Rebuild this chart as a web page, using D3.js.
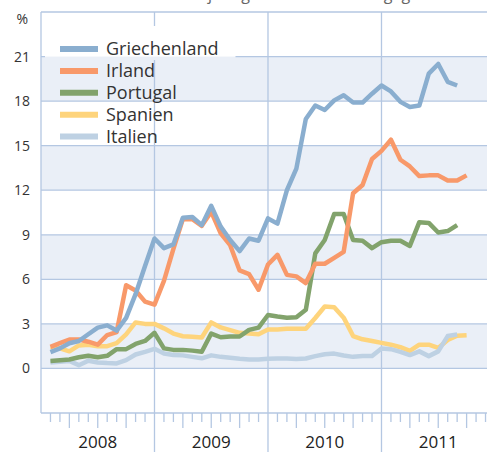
<!DOCTYPE html>
<html>
<head>
<meta charset="utf-8">
<script src="https://cdnjs.cloudflare.com/ajax/libs/d3/7.8.5/d3.min.js"></script>
<style>
body { margin: 0; background: #fff; }
text { font-family: "Open Sans", sans-serif; }
</style>
</head>
<body>
<div id="chart"></div>
<script>

// monthly values, first point = end of Jan 2008
var griechenland = [1.1, 1.35, 1.7, 1.85, 2.3, 2.75, 2.9, 2.55, 3.4, 5.0, 6.9, 8.75,
    8.1, 8.35, 10.15, 10.2, 9.65, 10.95, 9.55, 8.65, 7.9, 8.75, 8.6, 10.1,
    9.75, 12.0, 13.45, 16.8, 17.7, 17.4, 18.05, 18.4, 17.9, 17.9, 18.5, 19.05,
    18.65, 17.95, 17.6, 17.7, 19.85, 20.5, 19.3, 19.05];
var irland = [1.45, 1.7, 1.95, 1.95, 1.8, 1.6, 2.25, 2.45, 5.6, 5.25, 4.5, 4.3,
    5.9, 8.05, 10.05, 10.05, 9.6, 10.55, 9.1, 8.3, 6.6, 6.35, 5.3, 7.0,
    7.65, 6.3, 6.2, 5.75, 7.05, 7.05, 7.45, 7.85, 11.8, 12.35, 14.1, 14.65,
    15.4, 14.05, 13.6, 12.95, 13.0, 13.0, 12.65, 12.65, 13.0];
var portugal = [0.5, 0.55, 0.6, 0.75, 0.85, 0.75, 0.85, 1.3, 1.3, 1.65, 1.85, 2.4,
    1.35, 1.25, 1.25, 1.2, 1.12, 2.35, 2.1, 2.15, 2.15, 2.6, 2.75, 3.6,
    3.5, 3.42, 3.45, 3.95, 7.75, 8.65, 10.4, 10.4, 8.65, 8.6, 8.1, 8.5,
    8.6, 8.6, 8.25, 9.85, 9.8, 9.15, 9.25, 9.65];
var spanien = [1.45, 1.35, 1.15, 1.55, 1.6, 1.5, 1.5, 1.7, 2.3, 3.1, 3.0, 3.0,
    2.7, 2.35, 2.17, 2.13, 2.08, 3.1, 2.76, 2.58, 2.4, 2.35, 2.3, 2.62,
    2.62, 2.67, 2.67, 2.67, 3.4, 4.17, 4.12, 3.42, 2.18, 1.96, 1.85, 1.72,
    1.6, 1.43, 1.18, 1.6, 1.6, 1.38, 1.92, 2.2, 2.24];
var italien = [0.4, 0.45, 0.5, 0.22, 0.52, 0.4, 0.36, 0.34, 0.56, 0.94, 1.12, 1.32,
    1.0, 0.9, 0.88, 0.78, 0.68, 0.88, 0.78, 0.72, 0.65, 0.6, 0.6, 0.65,
    0.67, 0.67, 0.63, 0.67, 0.83, 0.96, 1.0, 0.87, 0.78, 0.83, 0.83, 1.35,
    1.3, 1.12, 0.9, 1.15, 0.83, 1.15, 2.18, 2.29];

var countries = ["Griechenland", "Irland", "Portugal", "Spanien", "Italien"];
var countryValues = [griechenland, irland, portugal, spanien, italien];
var years = ["2008", "2009", "2010", "2011"];
var yTicks = [0, 3, 6, 9, 12, 15, 18, 21];
var bandStarts = [0, 6, 12, 18];

var colors = ["#8aaecf", "#f8996a", "#82a36c", "#fed47c", "#bed1e3"];
var gridColor = "#b4c7e2";

var svgWidth = 487;
var svgHeight = 452;

var plot = { left: 41, top: 12, bottom: 413 };

var svg = d3.select("#chart")
    .append("svg")
    .attr("width", svgWidth)
    .attr("height", svgHeight);

// months since Jan 2008, one year is ~113.5px
var xScale = d3.scaleLinear()
    .domain([0, 48])
    .range([plot.left, plot.left + 48 * 9.458]);

var yScale = d3.scaleLinear()
    .domain([-3, 24])
    .range([plot.bottom, plot.top]);

// mask so grid lines disappear behind the legend
var defs = svg.append("defs");
var mask = defs.append("mask").attr("id", "legendMask");
mask.append("rect")
    .attr("width", svgWidth)
    .attr("height", svgHeight)
    .attr("fill", "white");

// shaded bands
svg.selectAll("rect.band")
    .data(bandStarts)
    .enter()
    .append("rect")
    .attr("class", "band")
    .attr("x", plot.left)
    .attr("width", svgWidth - plot.left)
    .attr("y", d => yScale(d + 3))
    .attr("height", d => yScale(d) - yScale(d + 3))
    .attr("fill", "#eaeff7");

var grid = svg.append("g")
    .attr("mask", "url(#legendMask)")
    .attr("stroke", gridColor)
    .attr("stroke-width", 1.3);

// horizontal grid lines incl. top and bottom border
grid.selectAll("line.h")
    .data(d3.range(-3, 25, 3))
    .enter()
    .append("line")
    .attr("x1", plot.left)
    .attr("x2", svgWidth)
    .attr("y1", d => yScale(d))
    .attr("y2", d => yScale(d));

// left axis line
grid.append("line")
    .attr("x1", plot.left).attr("x2", plot.left)
    .attr("y1", plot.top).attr("y2", plot.bottom);

// year separators go down to the bottom edge
grid.selectAll("line.year")
    .data([12, 24, 36])
    .enter()
    .append("line")
    .attr("x1", d => xScale(d))
    .attr("x2", d => xScale(d))
    .attr("y1", plot.top)
    .attr("y2", svgHeight);

// month ticks, longer on quarters
var months = d3.range(1, 48).filter(m => m % 12 != 0);
grid.selectAll("line.tick")
    .data(months)
    .enter()
    .append("line")
    .attr("x1", d => xScale(d))
    .attr("x2", d => xScale(d))
    .attr("y1", plot.bottom)
    .attr("y2", d => plot.bottom + (d % 3 == 0 ? 15 : 9));

// y labels
svg.selectAll("text.ylab")
    .data(yTicks)
    .enter()
    .append("text")
    .attr("x", 30)
    .attr("y", d => yScale(d))
    .attr("dy", "0.36em")
    .attr("text-anchor", "end")
    .attr("fill", "#333")
    .style("font-size", "14px")
    .text(d => d);

svg.append("text")
    .attr("x", 28)
    .attr("y", 19)
    .attr("dy", "0.36em")
    .attr("text-anchor", "end")
    .attr("fill", "#333")
    .style("font-size", "14px")
    .text("%");

// year labels
svg.selectAll("text.year")
    .data(years)
    .enter()
    .append("text")
    .attr("x", (d, i) => xScale(i * 12 + 6))
    .attr("y", 448)
    .attr("text-anchor", "middle")
    .attr("fill", "#222")
    .style("font-size", "17px")
    .text(d => d);

// title is cut off at the top edge, only descenders show
svg.append("text")
    .attr("x", 50)
    .attr("y", 0)
    .attr("fill", "#666")
    .style("font-size", "16px")
    .text("Renditeabstand zehnjähriger Staatsanleihen gegenüber Bund, Monatswerte");

// lines
var line = d3.line()
    .x((d, i) => xScale(i + 1))
    .y(d => yScale(d));

var drawOrder = [3, 4, 2, 1, 0];
drawOrder.forEach(function (k) {
    svg.append("path")
        .datum(countryValues[k])
        .attr("d", line)
        .attr("fill", "none")
        .attr("stroke", colors[k])
        .attr("stroke-width", 4.5)
        .attr("stroke-linejoin", "round");
});

// legend
var rowY = i => 49 + i * 21.9;
var legend = svg.selectAll("g.legend")
    .data(countries)
    .enter()
    .append("g");

legend.append("line")
    .attr("x1", 60).attr("x2", 98)
    .attr("y1", (d, i) => rowY(i))
    .attr("y2", (d, i) => rowY(i))
    .attr("stroke", (d, i) => colors[i])
    .attr("stroke-width", 6);

legend.append("text")
    .attr("x", 106)
    .attr("y", (d, i) => rowY(i) + 6.4)
    .attr("fill", "#333")
    .style("font-size", "18px")
    .text(d => d);

legend.selectAll("text").each(function (d, i) {
    var end = 106 + this.getComputedTextLength() + 17;
    var top = i == 0 ? 26 : rowY(i) - 11;
    var bottom = i == countries.length - 1 ? 164 : rowY(i) + 11;
    mask.append("rect")
        .attr("x", 45)
        .attr("y", top)
        .attr("width", end - 45)
        .attr("height", bottom - top)
        .attr("fill", "black");
});

</script>
</body>
</html>
